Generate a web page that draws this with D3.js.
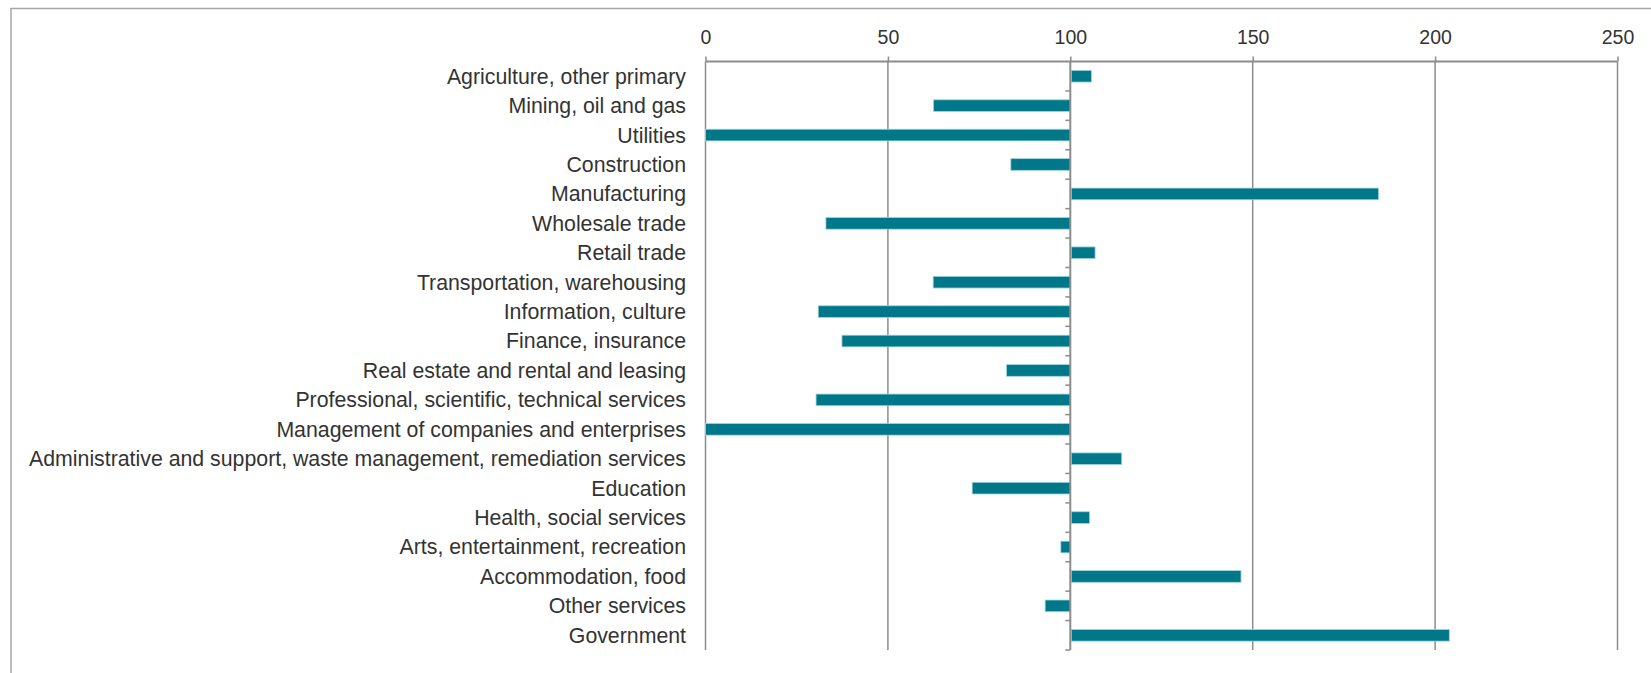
<!DOCTYPE html>
<html>
<head>
<meta charset="utf-8">
<script src="https://cdn.jsdelivr.net/npm/d3@7"></script>
<style>
  html, body { margin: 0; padding: 0; background: #fff; }
  svg { display: block; font-family: "Liberation Sans", Arial, Helvetica, sans-serif; }
</style>
</head>
<body>
<svg id="chart" width="1651" height="673"></svg>
<script>
// Industry index values (base = 100)
const industries = [
  "Agriculture, other primary",
  "Mining, oil and gas",
  "Utilities",
  "Construction",
  "Manufacturing",
  "Wholesale trade",
  "Retail trade",
  "Transportation, warehousing",
  "Information, culture",
  "Finance, insurance",
  "Real estate and rental and leasing",
  "Professional, scientific, technical services",
  "Management of companies and enterprises",
  "Administrative and support, waste management, remediation services",
  "Education",
  "Health, social services",
  "Arts, entertainment, recreation",
  "Accommodation, food",
  "Other services",
  "Government"
];
const indexValues = [
  105.8, 62.5, 0, 83.7, 184.5, 33.0, 106.8, 62.4, 30.9, 37.4,
  82.5, 30.3, 0, 114.1, 73.1, 105.3, 97.4, 146.8, 93.1, 203.9
];
const baseline = 100;
const xTicks = [0, 50, 100, 150, 200, 250];

const svg = d3.select("#chart");
const W = 1651, H = 673;
const plot = { left: 705.5, right: 1617.5, top: 61.5, bottom: 650 };

const x = d3.scaleLinear().domain([0, 250]).range([plot.left, plot.right]);
const y = d3.scaleBand().domain(industries).range([plot.top, plot.bottom]).paddingInner(0).paddingOuter(0);

// outer frame (top and left edges)
svg.append("line").attr("x1", 10.5).attr("x2", W).attr("y1", 8.5).attr("y2", 8.5)
  .attr("stroke", "#a6a6a6").attr("stroke-width", 1.5);
svg.append("line").attr("x1", 11).attr("x2", 11).attr("y1", 8).attr("y2", H)
  .attr("stroke", "#a6a6a6").attr("stroke-width", 1.5);

// value axis on top, gridlines down through the plot
const xAxis = svg.append("g")
  .attr("transform", `translate(0,${plot.top})`)
  .call(d3.axisTop(x).tickValues(xTicks).tickSize(5).tickPadding(13).tickFormat(d3.format("d")));
xAxis.select(".domain").attr("stroke", "#8c8c8c").attr("stroke-width", 2)
  .attr("d", `M${plot.left},0H${plot.right}`);
xAxis.selectAll(".tick line").attr("stroke", "#8c8c8c").attr("stroke-width", 1.5);
xAxis.selectAll(".tick text").attr("fill", "#333").attr("font-size", 19.5)
  .attr("font-family", "'Liberation Sans', Arial, sans-serif");

svg.append("g").selectAll("line").data(xTicks.filter(d => d !== baseline)).join("line")
  .attr("x1", d => x(d)).attr("x2", d => x(d))
  .attr("y1", plot.top).attr("y2", plot.bottom)
  .attr("stroke", "#8c8c8c").attr("stroke-width", 1.5);

// bars from the baseline
const barH = 11.7;
svg.append("g").selectAll("rect").data(industries).join("rect")
  .attr("x", (d, i) => Math.min(x(indexValues[i]), x(baseline)) + (indexValues[i] >= baseline ? 1 : 0))
  .attr("y", d => y(d) + (y.bandwidth() - barH) / 2)
  .attr("width", (d, i) => Math.max(0, Math.abs(x(indexValues[i]) - x(baseline)) - (indexValues[i] >= baseline ? 1 : 0)))
  .attr("height", barH)
  .attr("fill", "#00788a")
  .attr("stroke", "#a4d6dd")
  .attr("stroke-width", 0.8);

// category axis sitting on the baseline
const yAxis = svg.append("g")
  .attr("transform", `translate(${x(baseline)},0)`)
  .call(d3.axisLeft(y).tickSize(0).tickFormat(() => ""));
yAxis.select(".domain").attr("stroke", "#8c8c8c").attr("stroke-width", 2)
  .attr("d", `M0,${plot.top}V${plot.bottom}`);

// small marks between categories
const bounds = d3.range(industries.length + 1).map(i => plot.top + i * y.bandwidth());
svg.append("g").selectAll("line").data(bounds.slice(1)).join("line")
  .attr("x1", x(baseline) - 5).attr("x2", x(baseline))
  .attr("y1", d => d).attr("y2", d => d)
  .attr("stroke", "#8c8c8c").attr("stroke-width", 1.5);

// category labels at the left of the plot
svg.append("g").selectAll("text").data(industries).join("text")
  .attr("x", 686)
  .attr("y", d => y(d) + y.bandwidth() / 2)
  .attr("dy", "0.35em")
  .attr("text-anchor", "end")
  .attr("fill", "#333")
  .attr("font-size", 21.3)
  .text(d => d);
</script>
</body>
</html>
